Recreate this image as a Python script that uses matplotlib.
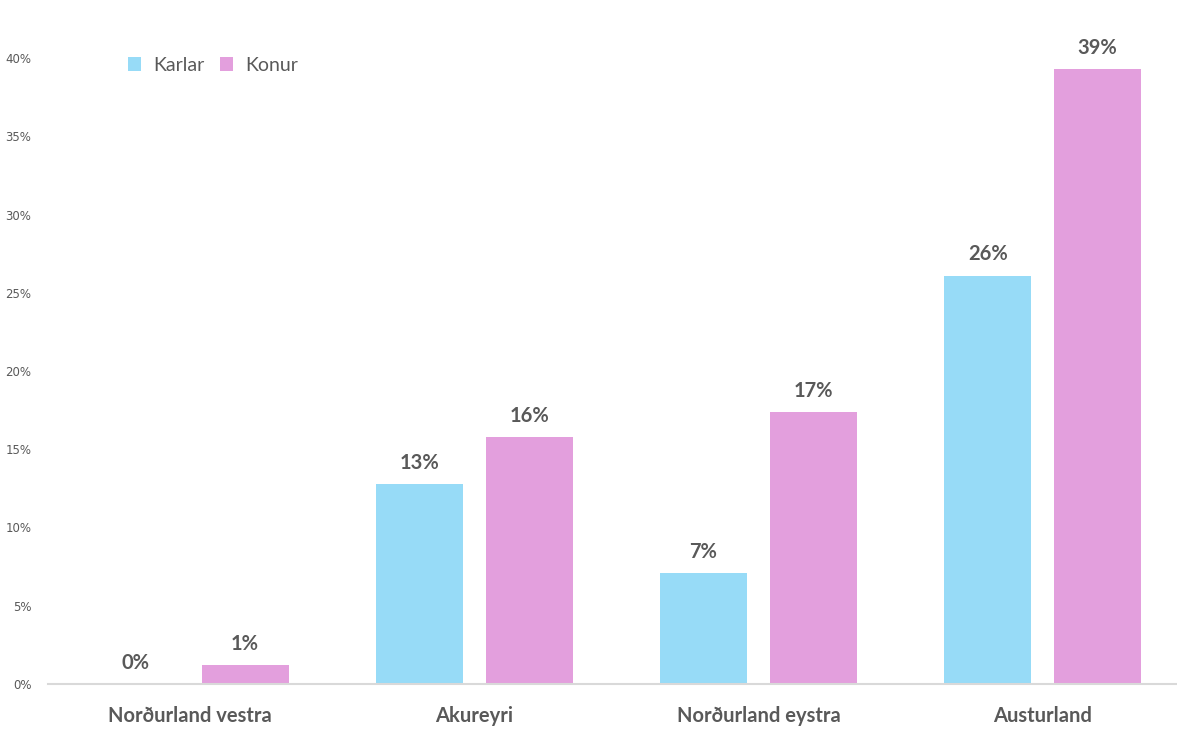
import numpy as np
import matplotlib.pyplot as plt
from matplotlib.ticker import PercentFormatter

# gögn
svaedi = ["Norðurland vestra", "Akureyri", "Norðurland eystra", "Austurland"]
karlar = [0.0, 0.128, 0.071, 0.261]
konur = [0.012, 0.158, 0.174, 0.393]
karlar_lbl = ["0%", "13%", "7%", "26%"]
konur_lbl = ["1%", "16%", "17%", "39%"]
yticks = [0, 0.05, 0.10, 0.15, 0.20, 0.25, 0.30, 0.35, 0.40]

c_karlar = "#97DBF7"
c_konur = "#E39FDD"
txt = "#595959"

W, H = 1177, 751
fig = plt.figure(figsize=(W / 100, H / 100), dpi=100)
ax = fig.add_axes([48 / W, (H - 684) / H, (1176 - 48) / W, (684 - 58) / H])

x = np.arange(len(svaedi))
bw = 0.306
off = 0.1935
b1 = ax.bar(x - off, karlar, bw, color=c_karlar, label="Karlar")
b2 = ax.bar(x + off, konur, bw, color=c_konur, label="Konur")

for bars, lbls in ((b1, karlar_lbl), (b2, konur_lbl)):
    for r, t in zip(bars, lbls):
        ax.annotate(t, (r.get_x() + r.get_width() / 2, r.get_height()),
                    xytext=(0, 8), textcoords="offset points",
                    ha="center", va="bottom", fontsize=14.5, fontweight="bold",
                    color=txt, family="Lato", annotation_clip=False)

ax.set_xlim(-0.5, 3.469)
ax.set_ylim(0, 0.40)
ax.set_yticks(yticks)
ax.yaxis.set_major_formatter(PercentFormatter(1.0, decimals=0))
ax.set_xticks(x)
ax.set_xticklabels(svaedi, fontsize=14.5, fontweight="bold", color=txt, family="Lato")
ax.tick_params(axis="x", length=0, pad=16)
ax.tick_params(axis="y", length=0, labelsize=8.5, labelcolor=txt, pad=12)

for s in ("top", "right", "left"):
    ax.spines[s].set_visible(False)
ax.spines["bottom"].set_color("#D9D9D9")
ax.spines["bottom"].set_linewidth(1.5)

ax.legend(loc="upper left", bbox_to_anchor=(0.055, 1.03), ncol=2, frameon=False,
          prop={"family": "Lato", "size": 14}, labelcolor=txt,
          handlelength=0.7, handleheight=0.7, handletextpad=0.6, columnspacing=0.8)

fig.savefig("out.png", dpi=100)
